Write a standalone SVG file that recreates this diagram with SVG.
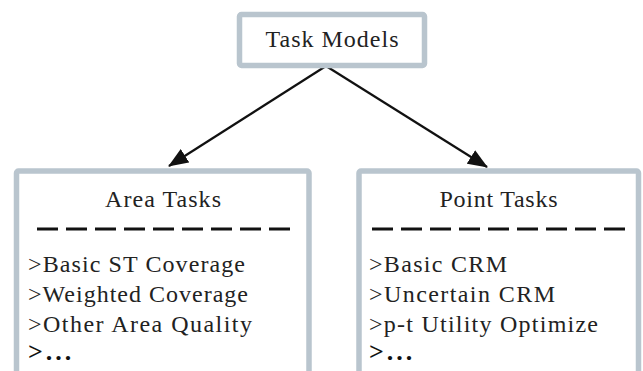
<svg xmlns="http://www.w3.org/2000/svg" width="643" height="371" viewBox="0 0 643 371">
  <style>
    .box { fill: #ffffff; stroke: #b9c5ce; stroke-width: 5.5; }
    .title { font-family: "Liberation Serif", "Times New Roman", serif; font-size: 24px; fill: #222222; text-anchor: middle; }
    .item { font-family: "Liberation Serif", "Times New Roman", serif; font-size: 24px; fill: #222222; }
    .more { font-family: "Liberation Serif", "Times New Roman", serif; font-size: 26px; font-weight: bold; fill: #111111; letter-spacing: 3px; }
    .sep { stroke: #111111; stroke-width: 3; stroke-dasharray: 21 8; }
    .link { stroke: #111111; stroke-width: 2.2; fill: none; }
  </style>
  <defs>
    <marker id="arrowhead" viewBox="0 0 20 16" refX="19" refY="8" markerWidth="20" markerHeight="16" markerUnits="userSpaceOnUse" orient="auto">
      <path d="M0,0 L20,8 L0,16 z" fill="#111111"/>
    </marker>
  </defs>

  <rect width="643" height="371" fill="#ffffff"/>

  <g id="connectors">
    <line class="link" x1="326" y1="66" x2="169" y2="166" marker-end="url(#arrowhead)"/>
    <line class="link" x1="326" y1="66" x2="487" y2="167" marker-end="url(#arrowhead)"/>
  </g>

  <g id="task-models">
    <rect class="box" x="239.5" y="14.5" width="185" height="51" rx="2"/>
    <text class="title" x="332" y="47" textLength="133" lengthAdjust="spacing">Task Models</text>
  </g>

  <g id="area-tasks">
    <rect class="box" x="16.5" y="171" width="292.5" height="220" rx="2"/>
    <text class="title" x="163" y="207" textLength="116" lengthAdjust="spacing">Area Tasks</text>
    <line class="sep" x1="37" y1="229" x2="290" y2="229"/>
    <text class="item" x="28" y="272" textLength="217" lengthAdjust="spacing">&gt;Basic ST Coverage</text>
    <text class="item" x="28" y="302" textLength="220" lengthAdjust="spacing">&gt;Weighted Coverage</text>
    <text class="item" x="28" y="332" textLength="224" lengthAdjust="spacing">&gt;Other Area Quality</text>
    <text class="more" x="28" y="360">&gt;...</text>
  </g>

  <g id="point-tasks">
    <rect class="box" x="359" y="171" width="279.5" height="220" rx="2"/>
    <text class="title" x="498.5" y="207" textLength="118" lengthAdjust="spacing">Point Tasks</text>
    <line class="sep" x1="372" y1="229" x2="625" y2="229"/>
    <text class="item" x="369" y="272" textLength="138" lengthAdjust="spacing">&gt;Basic CRM</text>
    <text class="item" x="369" y="302" textLength="186" lengthAdjust="spacing">&gt;Uncertain CRM</text>
    <text class="item" x="369" y="332" textLength="229" lengthAdjust="spacing">&gt;p-t Utility Optimize</text>
    <text class="more" x="369" y="360">&gt;...</text>
  </g>
</svg>
